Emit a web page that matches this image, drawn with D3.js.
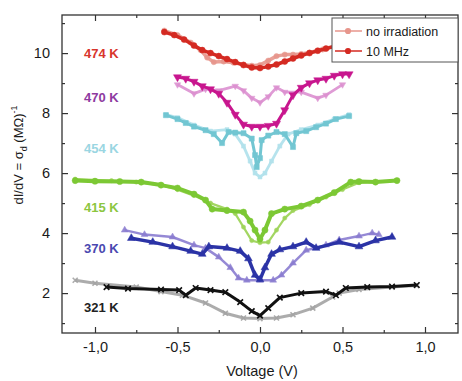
<!DOCTYPE html>
<html><head><meta charset="utf-8">
<script src="https://cdnjs.cloudflare.com/ajax/libs/d3/7.8.5/d3.min.js"></script>
<style>body{margin:0;background:#fff;}svg{display:block;font-family:"Liberation Sans",Arial,sans-serif;}</style>
</head><body><svg id="c" width="462" height="381"></svg>
<script>
// ---- data (voltage in V, conductance in (MΩ)^-1) ----
const xTicks = [-1.0, -0.5, 0.0, 0.5, 1.0];
const xTickLabels = ["-1,0", "-0,5", "0,0", "0,5", "1,0"];
const yTicks = [2, 4, 6, 8, 10];
const tempLabels = ["474 K", "470 K", "454 K", "415 K", "370 K", "321 K"];
const legendLabels = ["no irradiation", "10 MHz"];

const v474rf = [-0.58,-0.52,-0.46,-0.40,-0.35,-0.30,-0.25,-0.20,-0.15,-0.10,-0.05,0,0.05,0.10,0.15,0.20,0.25,0.30,0.35,0.40,0.47];
const g474rf = [10.7,10.6,10.45,10.25,10.1,10.0,9.9,9.8,9.7,9.6,9.52,9.5,9.55,9.62,9.72,9.82,9.92,10.0,10.08,10.15,10.25];
const v474no = [-0.58,-0.5,-0.42,-0.36,-0.32,-0.28,-0.22,-0.16,-0.1,-0.05,0,0.05,0.1,0.15,0.2,0.25,0.3,0.38,0.47];
const g474no = [10.75,10.6,10.35,10.1,9.85,9.7,9.72,9.68,9.62,9.58,9.6,9.75,9.9,9.95,9.95,9.97,10.02,10.12,10.27];

const v470rf = [-0.5,-0.45,-0.4,-0.35,-0.3,-0.25,-0.2,-0.15,-0.1,-0.05,0,0.05,0.1,0.15,0.2,0.25,0.3,0.35,0.4,0.45,0.5,0.54];
const g470rf = [9.2,9.15,9.05,8.9,8.8,8.65,8.35,7.95,7.62,7.55,7.55,7.58,7.65,8.1,8.6,8.85,9.0,9.1,9.15,9.25,9.3,9.3];
const v470no = [-0.5,-0.4,-0.33,-0.25,-0.15,-0.1,-0.05,0,0.05,0.1,0.15,0.25,0.35,0.4,0.5];
const g470no = [8.95,8.65,8.8,8.75,8.9,8.75,8.5,8.35,8.55,8.85,8.7,8.7,8.5,8.6,8.95];

const v454rf = [-0.57,-0.5,-0.45,-0.4,-0.33,-0.28,-0.23,-0.19,-0.15,-0.1,-0.05,-0.03,-0.02,0,0.01,0.05,0.1,0.15,0.2,0.22,0.28,0.34,0.4,0.46,0.54];
const g454rf = [7.93,7.8,7.67,7.55,7.43,7.3,7.0,7.37,7.35,7.33,7.15,6.6,6.2,6.5,7.1,7.25,7.37,7.3,6.87,7.33,7.4,7.53,7.65,7.8,7.9];
const v454no = [-0.57,-0.5,-0.4,-0.3,-0.2,-0.15,-0.1,-0.06,-0.03,0,0.03,0.07,0.12,0.17,0.25,0.35,0.45,0.54];
const g454no = [7.95,7.85,7.6,7.4,7.45,7.3,6.9,6.4,6.0,5.87,6.0,6.4,6.9,7.3,7.45,7.6,7.8,7.95];

const v415rf = [-1.12,-1.0,-0.85,-0.72,-0.6,-0.5,-0.4,-0.33,-0.29,-0.2,-0.1,-0.06,-0.03,0,0.03,0.07,0.15,0.25,0.35,0.45,0.55,0.6,0.7,0.83];
const g415rf = [5.75,5.73,5.72,5.7,5.6,5.5,5.3,5.1,4.8,4.75,4.7,4.4,4.1,3.8,4.1,4.65,4.8,4.9,5.1,5.35,5.7,5.72,5.7,5.75];
const v415no = [-1.12,-0.9,-0.75,-0.6,-0.5,-0.4,-0.3,-0.2,-0.15,-0.1,-0.05,0,0.05,0.1,0.15,0.2,0.3,0.4,0.5,0.6,0.83];
const g415no = [5.8,5.75,5.7,5.6,5.45,5.25,5.0,4.8,4.65,4.2,3.75,3.68,3.7,4.1,4.5,4.75,4.95,5.2,5.45,5.68,5.75];

const v370rf = [-0.78,-0.65,-0.53,-0.42,-0.35,-0.31,-0.2,-0.12,-0.07,-0.03,0,0.03,0.07,0.12,0.2,0.28,0.34,0.48,0.6,0.7,0.8];
const g370rf = [3.83,3.7,3.55,3.4,3.3,3.55,3.5,3.4,3.15,2.6,2.45,2.85,3.3,3.45,3.55,3.7,3.5,3.7,3.55,3.75,3.87];
const v370no = [-0.82,-0.7,-0.53,-0.4,-0.33,-0.25,-0.18,-0.13,-0.08,0,0.08,0.13,0.2,0.28,0.4,0.48,0.6,0.68,0.72];
const g370no = [4.1,3.95,3.87,3.6,3.5,3.2,2.85,2.5,2.43,2.43,2.43,2.6,3.0,3.43,3.6,3.77,3.9,4.0,3.95];

const v321rf = [-0.93,-0.8,-0.6,-0.49,-0.45,-0.39,-0.3,-0.21,-0.12,-0.05,0,0.05,0.12,0.25,0.4,0.46,0.52,0.65,0.8,0.95];
const g321rf = [2.2,2.15,2.12,2.1,1.93,2.17,2.1,2.03,1.7,1.4,1.25,1.5,1.85,2.0,2.05,1.93,2.17,2.2,2.22,2.27];
const v321no = [-1.12,-1.0,-0.75,-0.6,-0.47,-0.33,-0.21,-0.1,0,0.1,0.2,0.32,0.44,0.48,0.6,0.8,0.95];
const g321no = [2.43,2.33,2.2,2.05,1.93,1.67,1.33,1.17,1.15,1.17,1.28,1.5,1.87,2.0,2.12,2.2,2.25];

// ---- layout ----
const L = 62, R = 458, T = 15, B = 333;
const x = d3.scaleLinear().domain([-1.2, 1.2]).range([L, R]);
const y = d3.scaleLinear().domain([0.67, 11.27]).range([B, T]);
const svg = d3.select("#c");

const series = [
  {v: v321no, g: g321no, color: "#a3a3a3", sym: "cross", size: 18, lw: 3, op: 0.9},
  {v: v321rf, g: g321rf, color: "#111111", sym: "cross", size: 22, lw: 3, op: 1},
  {v: v370no, g: g370no, color: "#8a7cd0", sym: "tri", size: 20, lw: 2.5, op: 0.9},
  {v: v370rf, g: g370rf, color: "#2b33a6", sym: "tri", size: 26, lw: 3.5, op: 1},
  {v: v415no, g: g415no, color: "#9ed45a", sym: "circle", size: 14, lw: 2.2, op: 0.95},
  {v: v415rf, g: g415rf, color: "#7cc834", sym: "circle", size: 30, lw: 4, op: 1},
  {v: v454no, g: g454no, color: "#b2e2ec", sym: "square", size: 16, lw: 2.8, op: 0.95},
  {v: v454rf, g: g454rf, color: "#72c6d2", sym: "square", size: 26, lw: 3, op: 1},
  {v: v470no, g: g470no, color: "#dc90d0", sym: "dtri", size: 18, lw: 2.8, op: 0.9},
  {v: v470rf, g: g470rf, color: "#c8168e", sym: "dtri", size: 28, lw: 3, op: 1},
  {v: v474no, g: g474no, color: "#e7968c", sym: "circle", size: 22, lw: 3.5, op: 0.9},
  {v: v474rf, g: g474rf, color: "#d42a22", sym: "circle", size: 28, lw: 3.5, op: 1}
];

function symPath(s, size) {
  if (s === "cross") return d3.symbol(d3.symbolTimes, size)();
  if (s === "tri" || s === "dtri") return d3.symbol(d3.symbolTriangle, size)();
  if (s === "square") return d3.symbol(d3.symbolSquare, size)();
  return d3.symbol(d3.symbolCircle, size)();
}

const line = d3.line().x(d => x(d[0])).y(d => y(d[1]));
const gData = svg.append("g");
series.forEach(s => {
  const pts = s.v.map((v, i) => [v, s.g[i]]);
  gData.append("path").attr("d", line(pts)).attr("fill", "none")
    .attr("stroke", s.color).attr("stroke-width", s.lw).attr("stroke-linejoin", "round")
    .attr("opacity", s.op);
  gData.selectAll(null).data(pts).enter().append("path")
    .attr("d", symPath(s.sym, s.size))
    .attr("transform", d => `translate(${x(d[0])},${y(d[1])})` + (s.sym === "dtri" ? " rotate(180)" : ""))
    .attr("fill", s.sym === "cross" ? "none" : s.color)
    .attr("stroke", s.color).attr("stroke-width", s.sym === "cross" ? 1.6 : 0.5)
    .attr("opacity", s.op);
});

// ---- frame and axes (ticks inward, mirrored) ----
const axisCol = "#333";
const xMinor = [-0.75, -0.25, 0.25, 0.75];
const yMinor = [1, 3, 5, 7, 9, 11];

const axB = svg.append("g").attr("transform", `translate(0,${B})`)
  .call(d3.axisBottom(x).tickValues(xTicks).tickSize(-6).tickPadding(9)
    .tickFormat((d, i) => xTickLabels[i]));
const axT = svg.append("g").attr("transform", `translate(0,${T})`)
  .call(d3.axisTop(x).tickValues(xTicks).tickSize(-6).tickFormat(""));
const axL = svg.append("g").attr("transform", `translate(${L},0)`)
  .call(d3.axisLeft(y).tickValues(yTicks).tickSize(-6).tickPadding(12));
const axR = svg.append("g").attr("transform", `translate(${R},0)`)
  .call(d3.axisRight(y).tickValues(yTicks).tickSize(-6).tickFormat(""));
const mB = svg.append("g").attr("transform", `translate(0,${B})`)
  .call(d3.axisBottom(x).tickValues(xMinor).tickSize(-3).tickFormat(""));
const mT = svg.append("g").attr("transform", `translate(0,${T})`)
  .call(d3.axisTop(x).tickValues(xMinor).tickSize(-3).tickFormat(""));
const mL = svg.append("g").attr("transform", `translate(${L},0)`)
  .call(d3.axisLeft(y).tickValues(yMinor).tickSize(-3).tickFormat(""));
const mR = svg.append("g").attr("transform", `translate(${R},0)`)
  .call(d3.axisRight(y).tickValues(yMinor).tickSize(-3).tickFormat(""));
[axB, axT, axL, axR, mB, mT, mL, mR].forEach(a => {
  a.select(".domain").remove();
  a.selectAll("line").attr("stroke", axisCol).attr("stroke-width", 1.2);
  a.selectAll("text").attr("fill", "#1a1a1a").style("font-size", "14.5px")
    .style("font-family", "'Liberation Sans', Arial, sans-serif");
});
svg.append("rect").attr("x", L).attr("y", T).attr("width", R - L).attr("height", B - T)
  .attr("fill", "none").attr("stroke", axisCol).attr("stroke-width", 1.3);

// axis titles
svg.append("text").attr("x", 262).attr("y", 376).attr("text-anchor", "middle")
  .style("font-size", "14.5px").attr("fill", "#1a1a1a").text("Voltage (V)");
const yt = svg.append("text").attr("transform", `translate(23,${155}) rotate(-90)`)
  .attr("text-anchor", "middle").style("font-size", "13px").attr("fill", "#1a1a1a");
yt.append("tspan").text("dI/dV = σ");
yt.append("tspan").attr("dy", 4).style("font-size", "9px").text("d");
yt.append("tspan").attr("dy", -4).text(" (MΩ)");
yt.append("tspan").attr("dy", -6).style("font-size", "9px").text("-1");

// temperature labels
const tempColors = ["#d8352c", "#8e3aa0", "#9ad6e2", "#8cc63f", "#4a48b0", "#222222"];
const tempVals = [10.0, 8.55, 6.85, 4.87, 3.5, 1.53];
tempLabels.forEach((t, i) => {
  svg.append("text").attr("x", 84).attr("y", y(tempVals[i]) + 5)
    .style("font-size", "13px").style("font-weight", "bold")
    .attr("fill", tempColors[i]).text(t);
});

// legend
const lg = svg.append("g");
lg.append("rect").attr("x", 332).attr("y", 18).attr("width", R - 332).attr("height", 44)
  .attr("fill", "#fff").attr("stroke", "#555").attr("stroke-width", 1);
const legCols = ["#e7968c", "#d42a22"];
legendLabels.forEach((t, i) => {
  const yy = 31 + i * 20;
  lg.append("line").attr("x1", 335).attr("x2", 362).attr("y1", yy).attr("y2", yy)
    .attr("stroke", legCols[i]).attr("stroke-width", 1.5);
  lg.append("path").attr("d", d3.symbol(d3.symbolCircle, 30)())
    .attr("transform", `translate(348,${yy})`).attr("fill", legCols[i]);
  lg.append("text").attr("x", 366).attr("y", yy + 4.5).style("font-size", "12.5px")
    .attr("fill", "#1a1a1a").text(t);
});
</script></body></html>
